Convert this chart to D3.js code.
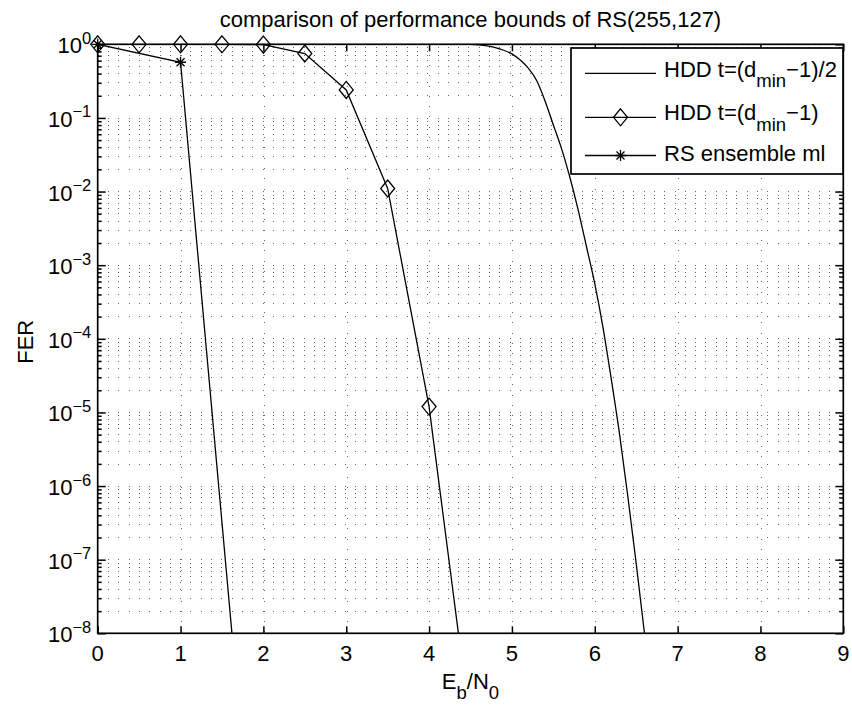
<!DOCTYPE html>
<html>
<head>
<meta charset="utf-8">
<script src="https://cdn.jsdelivr.net/npm/d3@7"></script>
<style>
  body { margin: 0; background: #fff; }
  svg { display: block; font-family: "Liberation Sans", Arial, Helvetica, sans-serif; }
</style>
</head>
<body>
<div id="chart"></div>
<script>
// values
var hddHalfEbN0 = [0, 1, 2, 3, 4, 4.4, 4.5, 4.6, 4.7, 4.8, 4.9, 5.0, 5.1, 5.2, 5.3, 5.4, 5.5, 5.6, 5.7, 5.8, 5.9, 6.0, 6.1, 6.2, 6.3, 6.4, 6.5, 6.6, 6.7];
var hddHalfFer = [1, 1, 1, 1, 1, 1, 0.995, 0.98, 0.95, 0.9, 0.83, 0.74, 0.61, 0.47, 0.32, 0.17, 0.08, 0.038, 0.0155, 5.6e-3, 1.78e-3, 5.6e-4, 1.41e-4, 2.8e-5, 5.0e-6, 7.1e-7, 8.9e-8, 1.0e-8, 1.0e-9];

var hddFullEbN0 = [0, 0.5, 1, 1.5, 2, 2.5, 3, 3.5, 4, 4.5];
var hddFullFer = [1, 1, 1, 1, 0.99, 0.75, 0.24, 0.011, 1.2e-5, 5.4e-10];

var rsMlEbN0 = [0, 1, 2];
var rsMlFer = [1, 0.57, 1.8e-13];

var xTicks = [0, 1, 2, 3, 4, 5, 6, 7, 8, 9];
var yExponents = [0, -1, -2, -3, -4, -5, -6, -7, -8];

var legendLabels = [
  {main: "HDD t=(d", sub: "min", rest: "\u22121)/2", marker: "none"},
  {main: "HDD t=(d", sub: "min", rest: "\u22121)", marker: "diamond"},
  {main: "RS ensemble ml", sub: "", rest: "", marker: "star"}
];

var svgWidth = 852;
var svgHeight = 706;

var margin = { top: 44.3, right: 8.7, bottom: 72.7, left: 97.7 };

var chartWidth = svgWidth - margin.left - margin.right;
var chartHeight = svgHeight - margin.top - margin.bottom;

var fontMain = 22;
var fontSmall = 18.5;

var svg = d3.select("#chart")
  .append("svg")
  .attr("width", svgWidth)
  .attr("height", svgHeight);

svg.append("rect").attr("width", svgWidth).attr("height", svgHeight).attr("fill", "#fff");

var chartGroup = svg.append("g")
  .attr("transform", `translate(${margin.left}, ${margin.top})`);

var xScale = d3.scaleLinear().domain([0, 9]).range([0, chartWidth]);
var yScale = d3.scaleLog().domain([1e-8, 1]).range([chartHeight, 0]);

// minor log values 2..9 x 10^k
var yMinor = [];
yExponents.slice(0, -1).forEach(function(e) {
  for (var m = 2; m <= 9; m++) yMinor.push(m * Math.pow(10, e - 1));
});
var yMajor = yExponents.map(e => Math.pow(10, e));

// dotted grid
var crisp = v => Math.round(v) + 0.5;
var grid = chartGroup.append("g")
  .attr("stroke", "#000")
  .attr("stroke-opacity", 0.6)
  .attr("stroke-width", 1)
  .attr("stroke-dasharray", "1,9.3")
  .attr("shape-rendering", "crispEdges");

grid.selectAll(".hgrid")
  .data(yMajor.concat(yMinor).filter(v => v < 1 && v > 1e-8))
  .enter()
  .append("line")
  .attr("x1", 0)
  .attr("x2", chartWidth)
  .attr("y1", d => crisp(yScale(d)))
  .attr("y2", d => crisp(yScale(d)));

grid.selectAll(".vgrid")
  .data(xTicks.filter(v => v > 0 && v < 9))
  .enter()
  .append("line")
  .attr("x1", d => crisp(xScale(d)))
  .attr("x2", d => crisp(xScale(d)))
  .attr("y1", 0)
  .attr("y2", chartHeight);

// ticks on all four sides, pointing inward
function addTicks(axis, transform) {
  var g = chartGroup.append("g").attr("transform", transform).call(axis);
  g.select(".domain").remove();
  g.selectAll("line").attr("stroke", "#000").attr("stroke-width", 1.5);
  g.selectAll("text").remove();
}
addTicks(d3.axisBottom(xScale).tickValues(xTicks).tickSize(-7), `translate(0, ${chartHeight})`);
addTicks(d3.axisTop(xScale).tickValues(xTicks).tickSize(-7), "translate(0, 0)");
addTicks(d3.axisLeft(yScale).tickValues(yMajor).tickSize(-8), "translate(0, 0)");
addTicks(d3.axisLeft(yScale).tickValues(yMinor).tickSize(-4), "translate(0, 0)");
addTicks(d3.axisRight(yScale).tickValues(yMajor).tickSize(-8), `translate(${chartWidth}, 0)`);
addTicks(d3.axisRight(yScale).tickValues(yMinor).tickSize(-4), `translate(${chartWidth}, 0)`);

// clipped data lines
svg.append("defs").append("clipPath").attr("id", "plotClip")
  .append("rect").attr("width", chartWidth).attr("height", chartHeight);

var plotLines = chartGroup.append("g").attr("clip-path", "url(#plotClip)")
  .attr("fill", "none").attr("stroke", "#000").attr("stroke-width", 1.3);

var lineGen = d3.line().x(d => xScale(d[0])).y(d => yScale(d[1]));

plotLines.append("path")
  .attr("d", d3.line().x(d => xScale(d[0])).y(d => yScale(d[1])).curve(d3.curveMonotoneX)(d3.zip(hddHalfEbN0, hddHalfFer)));
plotLines.append("path")
  .attr("d", lineGen(d3.zip(hddFullEbN0, hddFullFer)));
plotLines.append("path")
  .attr("d", lineGen(d3.zip(rsMlEbN0, rsMlFer)));

var diamondPath = "M0,-8.5L7,0L0,8.5L-7,0Z";
var starPath = "M-5.5,0H5.5M0,-5.5V5.5M-4,-4L4,4M-4,4L4,-4";
var inRange = d => d[1] >= 1e-8 && d[1] <= 1;

chartGroup.append("g")
  .selectAll("path")
  .data(d3.zip(hddFullEbN0, hddFullFer).filter(inRange))
  .enter()
  .append("path")
  .attr("transform", d => `translate(${xScale(d[0])}, ${yScale(d[1])})`)
  .attr("d", diamondPath)
  .attr("fill", "none")
  .attr("stroke", "#000")
  .attr("stroke-width", 1.3);

chartGroup.append("g")
  .selectAll("path")
  .data(d3.zip(rsMlEbN0, rsMlFer).filter(inRange))
  .enter()
  .append("path")
  .attr("transform", d => `translate(${xScale(d[0])}, ${yScale(d[1])})`)
  .attr("d", starPath)
  .attr("fill", "none")
  .attr("stroke", "#000")
  .attr("stroke-width", 1.3);

// axes box
chartGroup.append("rect")
  .attr("width", chartWidth)
  .attr("height", chartHeight)
  .attr("fill", "none")
  .attr("stroke", "#000")
  .attr("stroke-width", 1.7);

// tick labels
chartGroup.append("g")
  .attr("font-size", fontMain)
  .attr("text-anchor", "middle")
  .selectAll("text")
  .data(xTicks)
  .enter()
  .append("text")
  .attr("x", d => xScale(d))
  .attr("y", chartHeight + 28)
  .text(d => d);

var yLabels = chartGroup.append("g")
  .attr("font-size", fontMain)
  .attr("text-anchor", "end")
  .selectAll("text")
  .data(yExponents)
  .enter()
  .append("text")
  .attr("x", -6.5)
  .attr("y", d => yScale(Math.pow(10, d)) + 9);
yLabels.append("tspan").text("10");
yLabels.append("tspan")
  .attr("dy", -9.5)
  .attr("font-size", 16.5)
  .text(d => d < 0 ? "\u2212" + (-d) : String(d));

// title and axis labels
svg.append("text")
  .attr("x", margin.left + chartWidth / 2)
  .attr("y", 27)
  .attr("text-anchor", "middle")
  .attr("font-size", fontMain)
  .text("comparison of performance bounds of RS(255,127)");

var xLabel = svg.append("text")
  .attr("x", margin.left + chartWidth / 2)
  .attr("y", 689)
  .attr("text-anchor", "middle")
  .attr("font-size", fontMain);
xLabel.append("tspan").text("E");
xLabel.append("tspan").attr("dy", 10).attr("font-size", fontSmall).text("b");
xLabel.append("tspan").attr("dy", -10).text("/N");
xLabel.append("tspan").attr("dy", 10).attr("font-size", fontSmall).text("0");

svg.append("text")
  .attr("transform", `translate(33, ${margin.top + chartHeight / 2 + 3}) rotate(-90)`)
  .attr("text-anchor", "middle")
  .attr("font-size", fontMain)
  .text("FER");

// legend
var legend = svg.append("g");
legend.append("rect")
  .attr("x", 571)
  .attr("y", 48)
  .attr("width", 272)
  .attr("height", 126)
  .attr("fill", "#fff")
  .attr("stroke", "#000")
  .attr("stroke-width", 1.7);

var rowLineY = [73.3, 117.3, 155.5];
var rowTextY = [76.7, 120, 160.7];

var rows = legend.selectAll(".row")
  .data(legendLabels)
  .enter()
  .append("g");

rows.append("line")
  .attr("x1", 585).attr("x2", 656)
  .attr("y1", (d, i) => rowLineY[i]).attr("y2", (d, i) => rowLineY[i])
  .attr("stroke", "#000").attr("stroke-width", 1.3);

rows.filter(d => d.marker !== "none")
  .append("path")
  .attr("transform", d => `translate(620.5, ${rowLineY[legendLabels.indexOf(d)]})`)
  .attr("d", d => d.marker === "diamond" ? diamondPath : starPath)
  .attr("fill", "none").attr("stroke", "#000").attr("stroke-width", 1.3);

var rowText = rows.append("text")
  .attr("x", 664)
  .attr("y", (d, i) => rowTextY[i])
  .attr("font-size", fontMain);
rowText.append("tspan").text(d => d.main);
rowText.filter(d => d.sub !== "").append("tspan").attr("dy", 10.5).attr("font-size", fontSmall).text(d => d.sub);
rowText.filter(d => d.rest !== "").append("tspan").attr("dy", -10.5).text(d => d.rest);
</script>
</body>
</html>
